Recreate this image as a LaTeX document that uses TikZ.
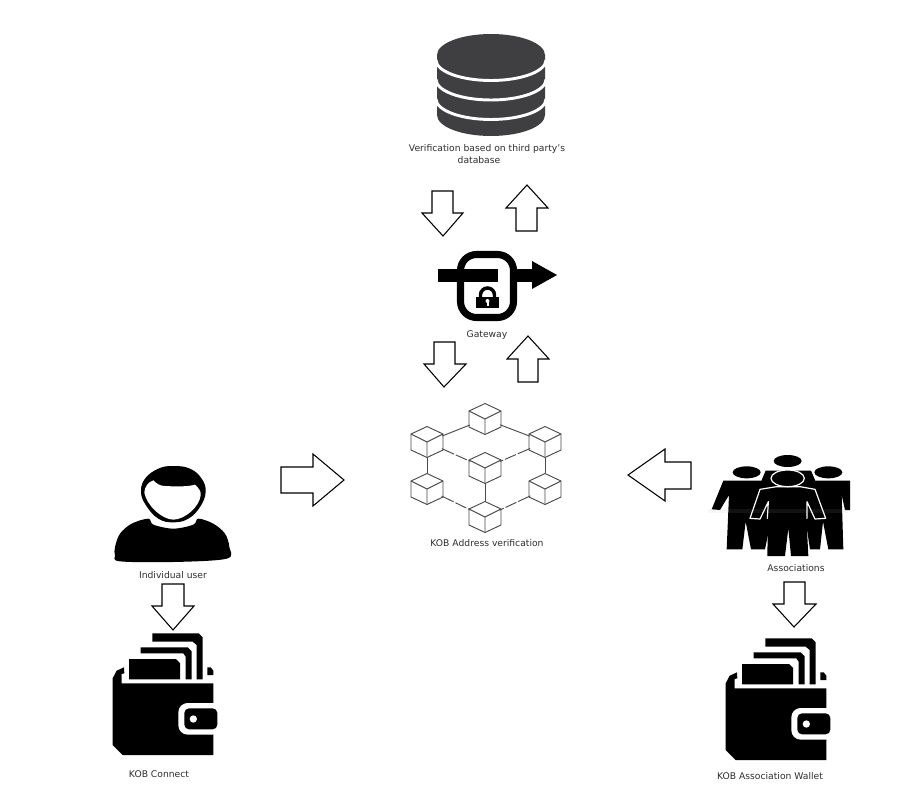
\documentclass[tikz,border=0pt]{standalone}
\usepackage{fontspec}
\setmainfont{DejaVu Sans}
\definecolor{dbgrey}{HTML}{3F3F41}
\definecolor{txt}{HTML}{2E2E2E}
\definecolor{cubeline}{HTML}{4A4A4A}
\tikzset{
  blockarrow/.style={draw=black,line width=0.8pt,fill=white,line join=miter},
  lbl/.style={inner sep=0pt,text=txt,font=\fontsize{6.9pt}{8pt}\selectfont},
  cubenode/.style={circle,inner sep=0pt,minimum size=24pt},
  cubeedge/.style={draw=cubeline,line width=0.7pt,line join=round},
  link/.style={draw=cubeline,line width=0.7pt},
  dashlink/.style={draw=cubeline,line width=0.7pt,dash pattern=on 10pt off 1.5pt on 9pt off 1.5pt},
}
\newcommand{\cubeat}[3]{%
  \node[cubenode] (#1) at (#2,#3) {};
  \begin{scope}[shift={(#2,#3)}]
    \draw[cubeedge] (0,-15.5)--(16,-8)--(16,8)--(0,15.5)--(-16,8)--(-16,-8)--cycle;
    \draw[cubeedge] (-16,-8)--(0,0)--(16,-8) (0,0)--(0,15.5);
  \end{scope}}
\newcommand{\walletat}[2]{%
  \begin{scope}[shift={(#1,#2)},x=0.25pt,y=-0.25pt]
    % body
    \fill[black] (102,622) -- (80,632) -- (68,655) -- (68,855) -- (98,885) -- (370,885) -- (370,670) -- (95,670) -- (95,642) -- (103,640) -- cycle;
    % cards
    \fill[black] (117,597) -- (258,597) -- (270,609) -- (270,658) -- (117,658) -- cycle;
    \fill[black] (152,562) -- (293,562) -- (305,574) -- (305,658) -- (287,658) -- (287,590) -- (280,580) -- (152,580) -- cycle;
    \fill[black] (187,520) -- (326,520) -- (338,532) -- (338,658) -- (320,658) -- (320,555) -- (308,545) -- (187,545) -- cycle;
    \fill[black] (352,622) -- (362,622) -- (370,632) -- (370,645) -- (352,645) -- cycle;
    % clasp
    \fill[white,rounded corners=7pt] (265,729) rectangle (395,824);
    \fill[black,rounded corners=3.5pt] (283,745) rectangle (382,808);
    \fill[white] (310,777) circle[radius=11];
  \end{scope}}
\begin{document}
\begin{tikzpicture}[x=0.75pt,y=-0.75pt]
\useasboundingbox[fill=white] (0,0) rectangle (921,789);

% database
\fill[dbgrey] (437,55) -- (437,115) arc[start angle=180,end angle=0,x radius=54,y radius=21] -- (545,55) -- cycle;
\fill[dbgrey] (491,55) ellipse[x radius=54,y radius=21];
\foreach \c in {60,79.5,99}{
  \draw[white,line width=2.2pt] (436,\c) arc[start angle=180,end angle=0,x radius=55,y radius=20.5];
}
\node[lbl] (dbtext) at (487,149) {Verification based on third party's};
\node[lbl] (dbtext2) at (479,160) {database};

% arrows around the gateway
\draw[blockarrow] (432,191)--(453,191)--(453,213)--(463,213)--(443,236)--(422,213)--(432,213)--cycle;
\draw[blockarrow] (527,185)--(548,208)--(537,208)--(537,231)--(516,231)--(516,208)--(506,208)--cycle;
\draw[blockarrow] (434,342)--(455,342)--(455,364)--(466,364)--(444,387)--(424,364)--(434,364)--cycle;
\draw[blockarrow] (528,336)--(549,359)--(538,359)--(538,382)--(518,382)--(518,359)--(507,359)--cycle;

% gateway
\draw[black,line width=5.3pt,rounded corners=12pt] (460.5,254.5) rectangle (513.5,317.5);
\fill[black] (438,269) rectangle (498,281.5);
\fill[black] (515,269) rectangle (533,281.5);
\fill[black] (532,261) -- (557,275) -- (532,289) -- cycle;
\draw[black,line width=2.6pt] (480.5,298) -- (480.5,295) arc[start angle=180,end angle=360,radius=7] -- (494.5,298);
\fill[black] (476,297) rectangle (499,308);
\fill[white] (487.5,301) circle[radius=2];
\fill[white] (486.5,301) rectangle (488.5,305.5);
\node[lbl] (gw) at (487,335) {Gateway};

% blockchain
\cubeat{ctop}{485}{419}
\cubeat{clu}{427}{442}
\cubeat{cru}{545}{442}
\cubeat{cmid}{485}{468}
\cubeat{cll}{427}{489}
\cubeat{crl}{545}{489}
\cubeat{cbot}{485}{517}
\draw[link] (ctop)--(clu);
\draw[link] (ctop)--(cru);
\draw[link] (clu)--(cll);
\draw[link] (cru)--(crl);
\draw[link] (cmid)--(cbot);
\draw[dashlink] (clu)--(cmid);
\draw[dashlink] (cru)--(cmid);
\draw[dashlink] (cll)--(cbot);
\draw[dashlink] (crl)--(cbot);
\node[lbl] (chain) at (487,543) {KOB Address verification};

% side arrows
\draw[blockarrow] (281,467)--(313,467)--(313,454)--(344,480)--(313,506)--(313,493)--(281,493)--cycle;
\draw[blockarrow] (691,462)--(665,462)--(665,449)--(628,475)--(665,501)--(665,489)--(691,489)--cycle;

% individual user
\begin{scope}[shift={(110,462)},x=0.25pt,y=-0.25pt]
  \fill[black] plot[smooth cycle,tension=0.55] coordinates {(15,255) (30,215) (65,185) (115,170) (130,188) (190,200) (250,188) (265,170) (310,185) (345,215) (358,255) (350,290) (190,300) (30,298) (15,280)};
  \fill[black] plot[smooth cycle,tension=0.7] coordinates {(93,90) (105,50) (145,20) (190,12) (240,20) (275,50) (287,90) (270,135) (235,170) (190,181) (145,170) (108,130)};
  \fill[white] (130,55) .. controls (140,65) and (150,72) .. (165,72) .. controls (200,74) and (235,74) .. (255,68)
     .. controls (268,80) and (274,90) .. (272,100) .. controls (268,135) and (225,172) .. (190,173)
     .. controls (155,172) and (110,130) .. (103,92) .. controls (103,75) and (115,60) .. (130,55) -- cycle;
\end{scope}
\node[lbl] (usertext) at (173,575) {Individual user};
\draw[blockarrow] (162,584)--(184,584)--(184,606)--(194,606)--(173,630)--(152,606)--(162,606)--cycle;
\walletat{90}{460}
\node[lbl] (conn) at (159,774) {KOB Connect};

% associations
\begin{scope}[shift={(705,450)},x=0.25pt,y=-0.25pt]
  \fill[black] (125,67) ellipse[x radius=42,y radius=18];
  \fill[black] (370,67) ellipse[x radius=42,y radius=18];
  \fill[black] (248,33) ellipse[x radius=42,y radius=18];
  % back centre figure
  \fill[black] (170,90) -- (182,62) -- (318,62) -- (330,90) -- (330,130) -- (170,130) -- cycle;
  % left figure
  \fill[black] (55,92) -- (190,92) -- (200,200) -- (180,298) -- (138,298) -- (122,215) -- (112,298) -- (65,298) -- (72,135) -- (45,180) -- (20,178) -- cycle;
  % right figure
  \fill[black] (300,92) -- (435,92) -- (435,180) -- (420,180) -- (410,135) -- (415,298) -- (370,298) -- (354,215) -- (345,298) -- (315,298) -- (300,200) -- cycle;
  % front figure
  \draw[white,line width=0.9pt,fill=black,line join=round]
     (165,118) -- (215,110) -- (285,110) -- (330,118) -- (362,205) -- (330,207) -- (306,155)
     -- (306,205) -- (187,205) -- (190,155) -- (165,207) -- (135,205) -- cycle;
  \fill[black] (189,200) -- (304,200) -- (310,318) -- (258,318) -- (250,235) -- (240,318) -- (187,318) -- cycle;
  \draw[white,line width=0.9pt,fill=black] (248,85) ellipse[x radius=50,y radius=25];
  % faint trace across the figures
  \fill[gray!60,opacity=0.1] (8,176) rectangle (430,190);
\end{scope}
\node[lbl] (assoc) at (796,568) {Associations};
\draw[blockarrow] (784,582)--(805,582)--(805,604)--(816,604)--(794,627)--(773,604)--(784,604)--cycle;
\walletat{703}{465}
\node[lbl] (wallet) at (770,776) {KOB Association Wallet};
\end{tikzpicture}
\end{document}
